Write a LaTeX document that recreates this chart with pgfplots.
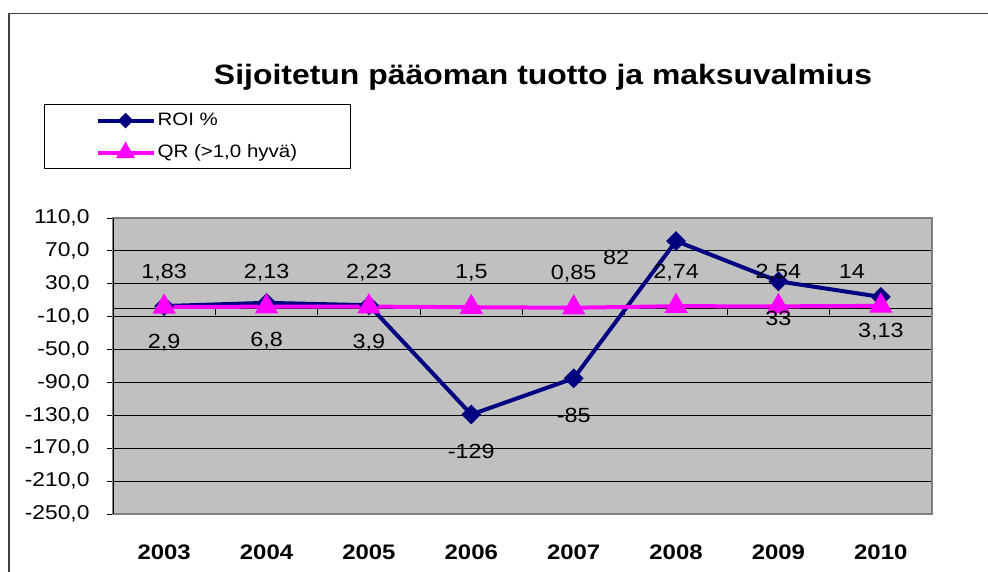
\documentclass[border=0pt]{standalone}
\usepackage{fontspec}
\setmainfont{Liberation Sans}[FakeStretch=1.14]
\usepackage{pgfplots}
\usepackage{pgfplotstable}
\pgfplotsset{compat=1.18}

\definecolor{plotbg}{HTML}{C0C0C0}
\definecolor{roiblue}{HTML}{000080}
\definecolor{qrpink}{HTML}{FF00FF}
\definecolor{framegray}{HTML}{404040}

% x = year index (2003 = 0); label offsets in pt
\pgfplotstableread{
x roi roilab rdx rdy qr qrlab qdx qdy
0 2.9  2,9  0   -37 1.83 1,83 0 34
1 6.8  6,8  0   -38 2.13 2,13 0 34
2 3.9  3,9  0   -37 2.23 2,23 0 34
3 -129 -129 0   -37 1.5  1,5  0 34
4 -85  -85  0   -37 0.85 0,85 0 34
5 82   82   -60 -16 2.74 2,74 0 34
6 33   33   0   -37 2.54 2,54 0 34
7 14   14   -29 25  3.13 3,13 0 -26
}\data

\begin{document}
\begin{tikzpicture}
\useasboundingbox (0pt,0pt) rectangle (988pt,572pt);
\draw[framegray, line width=1.5pt] (9pt,0pt) -- (9pt,558.5pt) -- (988pt,558.5pt);
\node[anchor=base, font=\bfseries\fontsize{28}{32}\selectfont] at (543pt,487pt)
  {Sijoitetun pääoman tuotto ja maksuvalmius};

\begin{axis}[
    at={(113pt,58pt)}, anchor=south west,
    width=819pt, height=296pt, scale only axis,
    xmin=-0.5, xmax=7.5, ymin=-250, ymax=110,
    xtick={0,1,2,3,4,5,6,7},
    xticklabels={2003,2004,2005,2006,2007,2008,2009,2010},
    ytick={-250,-210,-170,-130,-90,-50,-10,30,70,110},
    yticklabels={{-250,0},{-210,0},{-170,0},{-130,0},{-90,0},{-50,0},{-10,0},{30,0},{70,0},{110,0}},
    ymajorgrids,
    major grid style={black, line width=0.8pt},
    axis background/.style={fill=plotbg},
    axis line style={gray, line width=1.5pt},
    tick style={black, line width=0.8pt},
    xtick style={draw=none},
    ytick pos=left,
    tick align=outside,
    major tick length=6pt,
    yticklabel style={font=\fontsize{20}{23}\selectfont, anchor=east, xshift=-14pt},
    xticklabel style={font=\bfseries\fontsize{21}{24}\selectfont, anchor=base, yshift=-40pt},
    clip=false,
    legend style={at={(axis description cs:-0.0842,1.385)}, anchor=north west,
        draw=black, line width=1pt, fill=white,
        font=\fontsize{18}{22}\selectfont,
        inner xsep=51pt, inner ysep=7.5pt, row sep=15pt,
        nodes={inner xsep=2pt, inner ysep=0pt, text height=13pt, text depth=4pt}},
    legend cell align=left,
    legend image code/.code={\draw[mark repeat=2, mark phase=2, #1]
        plot coordinates {(0pt,0pt) (28pt,0pt) (56pt,0pt)};},
]
\draw[black, line width=1pt] (axis cs:-0.5,0) -- (axis cs:7.5,0);
\draw[black, line width=1pt] (axis cs:0.5,0) -- ++(0pt,-7pt);
\draw[black, line width=1pt] (axis cs:1.5,0) -- ++(0pt,-7pt);
\draw[black, line width=1pt] (axis cs:2.5,0) -- ++(0pt,-7pt);
\draw[black, line width=1pt] (axis cs:3.5,0) -- ++(0pt,-7pt);
\draw[black, line width=1pt] (axis cs:4.5,0) -- ++(0pt,-7pt);
\draw[black, line width=1pt] (axis cs:5.5,0) -- ++(0pt,-7pt);
\draw[black, line width=1pt] (axis cs:6.5,0) -- ++(0pt,-7pt);
\draw[black, line width=1pt] (rel axis cs:0,0) -- (rel axis cs:0,1);

\addlegendimage{roiblue, line width=4pt, mark=square*, mark size=3.5pt, mark options={rotate=45}}
\addlegendentry{ROI \%}
\addlegendimage{qrpink, line width=4pt, mark=triangle*, mark size=7pt}
\addlegendentry{QR (>1,0 hyvä)}

\addplot[forget plot, roiblue, line width=4pt, mark=square*, mark size=5pt, mark options={rotate=45}]
    table[x=x, y=roi] {\data};
\addplot[forget plot, qrpink, line width=4pt, mark=triangle*, mark size=9.5pt]
    table[x=x, y=qr] {\data};

\addplot[forget plot, draw=none, mark=none, nodes near coords, point meta=explicit symbolic,
    visualization depends on={\thisrow{rdx} \as \dx},
    visualization depends on={\thisrow{rdy} \as \dy},
    every node near coord/.style={anchor=center, xshift=\dx pt, yshift=\dy pt,
        font=\fontsize{20.5}{24}\selectfont, text=black}]
    table[x=x, y=roi, meta=roilab] {\data};
\addplot[forget plot, draw=none, mark=none, nodes near coords, point meta=explicit symbolic,
    visualization depends on={\thisrow{qdx} \as \dx},
    visualization depends on={\thisrow{qdy} \as \dy},
    every node near coord/.style={anchor=center, xshift=\dx pt, yshift=\dy pt,
        font=\fontsize{20.5}{24}\selectfont, text=black}]
    table[x=x, y=qr, meta=qrlab] {\data};
\end{axis}
\end{tikzpicture}
\end{document}
